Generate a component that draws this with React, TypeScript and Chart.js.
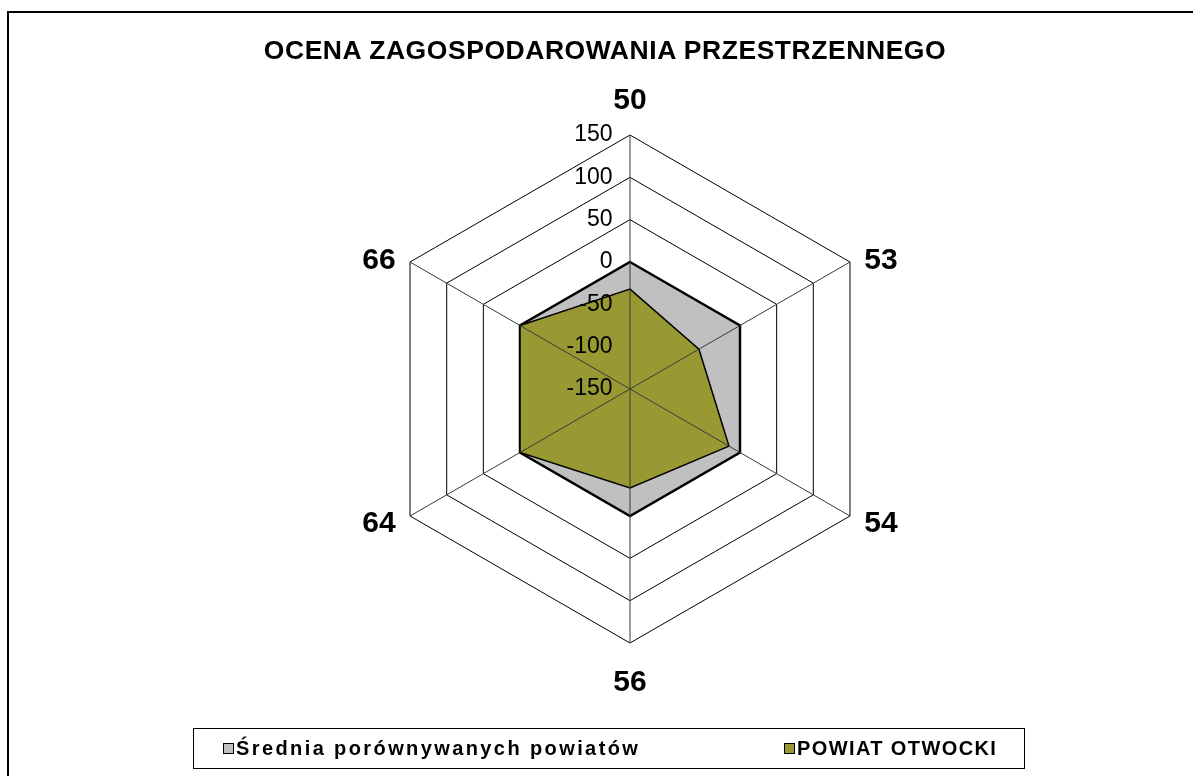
import React, { useEffect, useRef } from "react";
import { Chart, registerables } from "chart.js";

Chart.register(...registerables);

const chartTitle = "OCENA ZAGOSPODAROWANIA PRZESTRZENNEGO";
const categories = ["50", "53", "54", "56", "64", "66"];
const seriesNames = ["Średnia porównywanych powiatów", "POWIAT OTWOCKI"];
const averageValues = [0, 0, 0, 0, 0, 0];
const otwockValues = [-32, -56, -15, -33, 0, 0];
const tickValues = [-150, -100, -50, 0, 50, 100, 150];

const FONT = '"Liberation Sans", Arial, Helvetica, sans-serif';
const seriesColors = ["#C0C0C0", "#999933"];

const overlayPlugin = {
  id: "overlayPlugin",
  afterDatasetsDraw(chart: any) {
    const s = chart.scales.r;
    const ctx = chart.ctx;
    ctx.save();
    // spokes drawn over the filled areas
    ctx.strokeStyle = "#3a3a3a";
    ctx.lineWidth = 1;
    for (let i = 0; i < categories.length; i++) {
      const p = s.getPointPosition(i, s.drawingArea);
      ctx.beginPath();
      ctx.moveTo(s.xCenter, s.yCenter);
      ctx.lineTo(p.x, p.y);
      ctx.stroke();
    }
    // tick labels, to the left of the vertical spoke
    ctx.fillStyle = "#000";
    ctx.font = `23px ${FONT}`;
    ctx.textAlign = "right";
    ctx.textBaseline = "alphabetic";
    tickValues.forEach((v) => {
      const y = s.yCenter - s.getDistanceFromCenterForValue(v);
      ctx.fillText(String(v), s.xCenter - 17.5, y + 6.2);
    });
    // category labels
    ctx.font = `bold 30px ${FONT}`;
    ctx.textAlign = "center";
    categories.forEach((c, i) => {
      const p = s.getPointPosition(i, s.drawingArea);
      const dx = p.x - s.xCenter;
      const dy = p.y - s.yCenter;
      let x = p.x;
      let y = p.y;
      if (Math.abs(dx) < 1) {
        y += dy < 0 ? -36.5 : 37.5;
      } else {
        x += dx > 0 ? 31 : -31;
        y += dy < 0 ? -3.5 : 5;
      }
      ctx.fillText(c, x, y + 10.7);
    });
    ctx.restore();
  },
};

export default function App() {
  const canvasRef = useRef<HTMLCanvasElement | null>(null);

  useEffect(() => {
    const canvas = canvasRef.current;
    if (!canvas) return;
    const chart = new Chart(canvas, {
      type: "radar",
      data: {
        labels: categories,
        datasets: [
          {
            label: seriesNames[0],
            data: averageValues,
            backgroundColor: seriesColors[0],
            borderColor: "#000",
            borderWidth: 2.5,
            pointRadius: 0,
            fill: "start",
            order: 2,
          },
          {
            label: seriesNames[1],
            data: otwockValues,
            backgroundColor: seriesColors[1],
            borderColor: "#000",
            borderWidth: 1.5,
            pointRadius: 0,
            fill: "start",
            order: 1,
          },
        ],
      },
      options: {
        animation: false,
        responsive: false,
        maintainAspectRatio: false,
        devicePixelRatio: 1,
        layout: { padding: { top: 135, bottom: 133, left: 330, right: 263 } },
        elements: { line: { tension: 0, borderJoinStyle: "miter" } },
        plugins: {
          legend: { display: false },
          title: { display: false },
          tooltip: { enabled: false },
        },
        scales: {
          r: {
            min: tickValues[0],
            max: tickValues[tickValues.length - 1],
            ticks: { stepSize: tickValues[1] - tickValues[0], display: false },
            grid: { color: "#000", lineWidth: 1 },
            angleLines: { display: false },
            pointLabels: { display: false },
          },
        },
      },
      plugins: [overlayPlugin],
    } as any);
    return () => chart.destroy();
  }, []);

  return (
    <div
      style={{
        position: "fixed",
        left: 0,
        top: 0,
        width: 1193,
        height: 776,
        overflow: "hidden",
        background: "#fff",
        fontFamily: FONT,
      }}
    >
      <canvas
        ref={canvasRef}
        width={1193}
        height={776}
        style={{ position: "absolute", left: 0, top: 0, width: 1193, height: 776 }}
      />
      <div
        style={{
          position: "absolute",
          left: 7,
          top: 11,
          width: 1300,
          height: 900,
          borderTop: "2px solid #000",
          borderLeft: "2px solid #000",
          pointerEvents: "none",
        }}
      />
      <div
        style={{
          position: "absolute",
          left: 0,
          top: 37,
          width: 1210,
          textAlign: "center",
          font: `bold 26.5px ${FONT}`,
          lineHeight: "26.5px",
          letterSpacing: "0.55px",
          color: "#000",
          whiteSpace: "nowrap",
        }}
      >
        {chartTitle}
      </div>
      <div
        style={{
          position: "absolute",
          left: 193,
          top: 728,
          width: 832,
          height: 41,
          boxSizing: "border-box",
          border: "1px solid #000",
        }}
      />
      {seriesNames.map((name, i) => {
        const markerLeft = i === 0 ? 223 : 784;
        return (
          <React.Fragment key={name}>
            <div
              style={{
                position: "absolute",
                left: markerLeft,
                top: 743,
                width: 11,
                height: 11,
                boxSizing: "border-box",
                background: seriesColors[i],
                border: "1px solid #000",
              }}
            />
            <div
              style={{
                position: "absolute",
                left: markerLeft + 13,
                top: 738,
                font: `bold 20px ${FONT}`,
                lineHeight: "20px",
                letterSpacing: i === 0 ? "2.4px" : "1.4px",
                color: "#000",
                whiteSpace: "nowrap",
              }}
            >
              {name}
            </div>
          </React.Fragment>
        );
      })}
    </div>
  );
}
